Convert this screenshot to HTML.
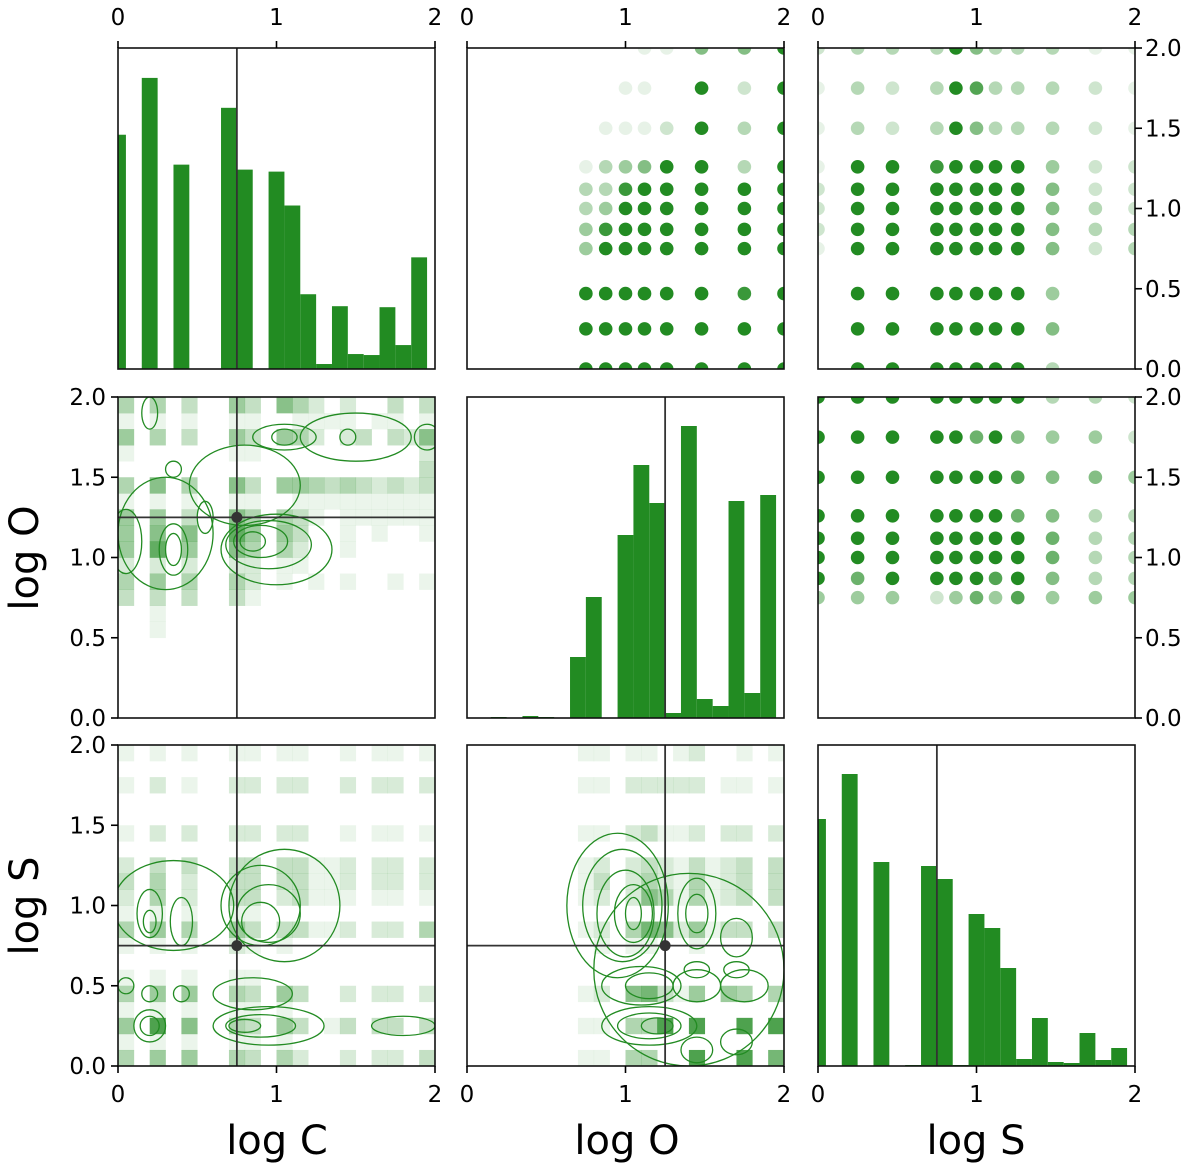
<!DOCTYPE html>
<html><head><meta charset="utf-8"><style>
html,body{margin:0;padding:0;background:#fff;}
svg{display:block;font-family:"DejaVu Sans","Liberation Sans",sans-serif;}
</style></head><body>
<svg id="fig" width="1200" height="1168" viewBox="0 0 1200 1168"></svg>
<script>
// ---------- data ----------
const histBins = [0,0.1,0.2,0.3,0.4,0.5,0.6,0.7,0.8,0.9,1.0,1.1,1.2,1.3,1.4,1.5,1.6,1.7,1.8,1.9];
const histC = [235,0,292,0,205,0,0,262,200,0,198,164,75,5,63,15,14,62,24,112];
const histO = [0,0,1,0,2,1,0,61,121,0,183,253,215,5,292,19,12,217,25,223];
const histS = [247,0,292,0,204,0,1,200,187,1,152,138,98,7,48,4,3,33,6,18];
const histMaxC = 322, histMaxO = 321, histMaxS = 321;

const levC = [0,0.25,0.47,0.75,0.87,1.0,1.12,1.26,1.5,1.75,2.0];
const levO8 = [0.75,0.875,1.0,1.12,1.26,1.48,1.75,2.0];
const levS = [0,0.25,0.47,0.75,0.87,1.0,1.12,1.26,1.48,1.75,2.0];
const levO = [2.0,1.75,1.5,1.26,1.12,1.0,0.87,0.75];
const scOC = ["99999999","99999999","99999989","49999999","48999999","34999999","33899999","13459939","01112939","00110929","00011559"];
const scSC = ["09999999300","09999999500","09999999400","19999999523","29999999533","29999999532","29999999522","19989999422","13239533321","13239733321","23339533311"];
const scSO = ["99999999332","99999695442","99999997554","99999996533","99999999633","99999999633","96999979533","44424647444"];

const h2CO = ["40403005306420200303","10101001100111101101","50403005305420230326","10000001100000000002","00000000000000000003","40604006305543432323","10101001100111111111","50503006404310111111","50606008505300101001","50805006404200100000","20202002201100000000","40504004201010100101","30303003100000000000","00100000000000000000","00100000000000000000","00000000000000000000","00000000000000000000","00000000000000000000","00000000000000000000","00000000000000000000"];
const h2CS = ["10101001101100101101","00000000000000000000","10201002202200202202","00000000000000000000","00000000000000000000","10202002202200101101","00000000000000000000","20303003303311202202","30402003303311202202","20402003302311101101","10101001100000000000","40504005303311202204","10101002101000000000","00000000000000000000","10101001100000000000","40505004305300202202","10101001101000000000","50906004305301303303","10101001101000000000","40505004304200202203"];
const h2OS = ["00000001101101200101","00000000000000000000","00000001102222201101","00000000000000000000","00000000000000000000","00000001102311202202","00000000000000000000","00000001202321312303","00000001302421412303","00000001202641412303","00000000000000000000","00000001204762513303","00000000101100100000","00000000000000000000","00000000000000000000","00000001206731505404","00000000000000000000","00000001104490900909","00000000000000000000","00000001104400900907"];

const ctCO = [[0.85,1.1,0.08,0.06],[0.9,1.1,0.17,0.1],[0.95,1.08,0.27,0.15],[1.0,1.05,0.35,0.22],[0.35,1.05,0.05,0.1],[0.35,1.05,0.09,0.16],[0.05,1.1,0.1,0.2],[0.55,1.25,0.05,0.1],[0.35,1.55,0.05,0.05],[0.2,1.9,0.05,0.1],[1.05,1.75,0.08,0.05],[1.05,1.75,0.2,0.08],[1.45,1.75,0.05,0.05],[1.5,1.75,0.35,0.15],[1.95,1.75,0.08,0.08],[0.3,1.15,0.3,0.35],[0.8,1.45,0.35,0.25]];
const ctCS = [[0.9,1.0,0.25,0.25],[0.95,0.95,0.2,0.18],[0.9,0.9,0.12,0.12],[0.2,0.95,0.08,0.15],[0.2,0.9,0.04,0.07],[0.4,0.9,0.07,0.15],[0.95,0.25,0.35,0.12],[0.9,0.25,0.22,0.07],[0.8,0.25,0.1,0.04],[0.2,0.25,0.06,0.06],[0.2,0.25,0.1,0.1],[0.4,0.45,0.05,0.05],[0.2,0.45,0.05,0.05],[0.05,0.5,0.05,0.05],[0.85,0.45,0.25,0.1],[1.8,0.25,0.2,0.06],[0.35,1.0,0.38,0.28],[1.05,1.0,0.35,0.35]];
const ctOS = [[1.05,0.95,0.05,0.1],[1.05,0.95,0.12,0.18],[1.0,0.95,0.18,0.27],[0.98,1.0,0.25,0.35],[0.95,1.0,0.32,0.45],[1.45,0.95,0.07,0.12],[1.45,0.95,0.12,0.22],[1.7,0.8,0.1,0.12],[1.15,0.5,0.15,0.08],[1.1,0.5,0.25,0.12],[1.2,0.25,0.1,0.05],[1.15,0.25,0.2,0.08],[1.15,0.25,0.3,0.12],[1.45,0.6,0.08,0.05],[1.7,0.6,0.08,0.05],[1.45,0.1,0.1,0.08],[1.7,0.15,0.1,0.08],[1.45,0.5,0.15,0.1],[1.75,0.5,0.15,0.1],[1.4,0.6,0.6,0.6]];

const truthC = 0.75, truthO = 1.25, truthS = 0.75;
const xTicks = [0,1,2];
const yTicks = ["0.0","0.5","1.0","1.5","2.0"];

// ---------- layout ----------
const NS = "http://www.w3.org/2000/svg";
const svg = document.getElementById("fig");
const colL = [118,467,818], W = 317;
const rowT = [48,397,745], H = 321;
const G = "#228b22";
function el(tag, attrs, parent){ const e=document.createElementNS(NS,tag); for(const k in attrs) e.setAttribute(k,attrs[k]); (parent||svg).appendChild(e); return e; }
function sx(c,v){ return colL[c] + v/2*W; }
function sy(r,v){ return rowT[r] + H - v/2*H; }
function panel(c,r,name){
  const g = el("g",{});
  
  
  const cp = el("clipPath",{id:"cp"+c+r},g);
  el("rect",{x:colL[c],y:rowT[r],width:W,height:H},cp);
  const inner = el("g",{"clip-path":"url(#cp"+c+r+")"},g);
  return {g, inner};
}
function frame(g,c,r){
  const f = el("rect",{x:colL[c],y:rowT[r],width:W,height:H,fill:"none",stroke:"#111","stroke-width":1.6},g);
  
  
}
function hist(c,r,vals,max,truth,name){
  const p = panel(c,r,name);
  vals.forEach((v,i)=>{
    if(v<=0) return;
    const x0 = sx(c,histBins[i]-0.05), x1 = sx(c,histBins[i]+0.05);
    const h = v/max*H;
    const b = el("rect",{x:x0,y:rowT[r]+H-h,width:x1-x0,height:h,fill:G},p.inner);
    
    
  });
  const l = el("line",{x1:sx(c,truth),x2:sx(c,truth),y1:rowT[r],y2:rowT[r]+H,stroke:"#333","stroke-width":1.8},p.g);
  
  
  frame(p.g,c,r);
}
function scatter(c,r,xl,yl,mat,name){
  const p = panel(c,r,name);
  mat.forEach((row,i)=>{
    for(let j=0;j<row.length;j++){
      const a = +row[j]/9; if(a<=0) continue;
      const d = el("circle",{cx:sx(c,xl[j]),cy:sy(r,yl[i]),r:6.8,fill:G,"fill-opacity":a},p.inner);
      
      
    }
  });
  frame(p.g,c,r);
}
function density(c,r,mat,ct,tx,ty,name){
  const p = panel(c,r,name);
  mat.forEach((row,i)=>{
    for(let j=0;j<20;j++){
      const a = +row[j]/9; if(a<=0) continue;
      const yv = (19-i)*0.1;
      const cell = el("rect",{x:sx(c,j*0.1),y:sy(r,yv+0.1),width:W/20+0.3,height:H/20+0.3,fill:G,"fill-opacity":a*0.8},p.inner);
      
      
    }
  });
  ct.forEach(e=>{
    const o = el("ellipse",{cx:sx(c,e[0]),cy:sy(r,e[1]),rx:e[2]/2*W,ry:e[3]/2*H,fill:"none",stroke:G,"stroke-width":1.3},p.inner);
    
    
  });
  const lx = el("line",{x1:sx(c,tx),x2:sx(c,tx),y1:rowT[r],y2:rowT[r]+H,stroke:"#333","stroke-width":1.8},p.g);
  
  
  const ly = el("line",{x1:colL[c],x2:colL[c]+W,y1:sy(r,ty),y2:sy(r,ty),stroke:"#333","stroke-width":1.8},p.g);
  
  
  const dt = el("circle",{cx:sx(c,tx),cy:sy(r,ty),r:5.5,fill:"#333"},p.g);
  
  
  frame(p.g,c,r);
}
hist(0,0,histC,histMaxC,truthC,"hist-log-c");
hist(1,1,histO,histMaxO,truthO,"hist-log-o");
hist(2,2,histS,histMaxS,truthS,"hist-log-s");
scatter(1,0,levO8,levC,scOC,"scatter-o-c");
scatter(2,0,levS,levC,scSC,"scatter-s-c");
scatter(2,1,levS,levO,scSO,"scatter-s-o");
density(0,1,h2CO,ctCO,truthC,truthO,"density-c-o");
density(0,2,h2CS,ctCS,truthC,truthS,"density-c-s");
density(1,2,h2OS,ctOS,truthO,truthS,"density-o-s");

// ---------- ticks ----------
function txt(x,y,s,size,anchor,name,rot){
  const t = el("text",{x:x,y:y,"font-size":size,"text-anchor":anchor||"middle",fill:"#000"});
  if(rot) t.setAttribute("transform","rotate(-90 "+x+" "+y+")");
  t.textContent = s;
  
  
  return t;
}
for(let c=0;c<3;c++){
  xTicks.forEach(v=>{
    const x = sx(c,v);
    el("line",{x1:x,x2:x,y1:rowT[0]-7,y2:rowT[0],stroke:"#000","stroke-width":1.6});
    txt(x,rowT[0]-23,String(v),23,"middle","top-tick-label");
    el("line",{x1:x,x2:x,y1:rowT[2]+H,y2:rowT[2]+H+7,stroke:"#000","stroke-width":1.6});
    txt(x,rowT[2]+H+36,String(v),23,"middle","bottom-tick-label");
  });
}
for(let r=1;r<3;r++){
  yTicks.forEach(s=>{
    const y = sy(r,+s);
    el("line",{x1:colL[0]-7,x2:colL[0],y1:y,y2:y,stroke:"#000","stroke-width":1.6});
    txt(colL[0]-12,y+8,s,23,"end","left-tick-label");
  });
}
for(let r=0;r<2;r++){
  yTicks.forEach(s=>{
    const y = sy(r,+s);
    const xr = colL[2]+W;
    el("line",{x1:xr,x2:xr+7,y1:y,y2:y,stroke:"#000","stroke-width":1.6});
    txt(xr+10,y+8,s,23,"start","right-tick-label");
  });
}
txt(277,1154,"log C",40,"middle","x-axis-title-log-c");
txt(627,1154,"log O",40,"middle","x-axis-title-log-o");
txt(976,1154,"log S",40,"middle","x-axis-title-log-s");
txt(38,558,"log O",40,"middle","y-axis-title-log-o",true);
txt(38,906,"log S",40,"middle","y-axis-title-log-s",true);
</script>
</body></html>
